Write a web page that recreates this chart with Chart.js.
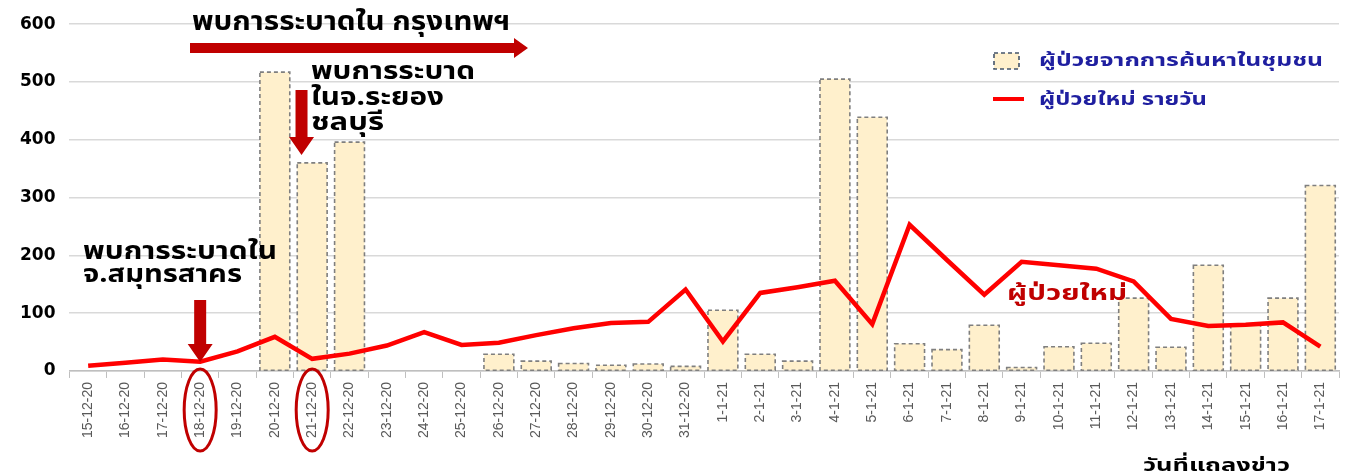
<!DOCTYPE html>
<html>
<head>
<meta charset="utf-8">
<script src="https://cdn.jsdelivr.net/npm/chart.js@4.4.0/dist/chart.umd.min.js"></script>
<style>
  html, body { margin: 0; padding: 0; background: #ffffff; }
  #wrap { width: 1345px; height: 474px; position: relative; }
</style>
</head>
<body>
<div id="wrap"><canvas id="chart"></canvas></div>
<script>
// Dates of the press briefings
const dates = [
    '15-12-20', '16-12-20', '17-12-20', '18-12-20', '19-12-20', '20-12-20', '21-12-20',
    '22-12-20', '23-12-20', '24-12-20', '25-12-20', '26-12-20', '27-12-20', '28-12-20',
    '29-12-20', '30-12-20', '31-12-20', '1-1-21', '2-1-21', '3-1-21', '4-1-21', '5-1-21',
    '6-1-21', '7-1-21', '8-1-21', '9-1-21', '10-1-21', '11-1-21', '12-1-21', '13-1-21',
    '14-1-21', '15-1-21', '16-1-21', '17-1-21'
];

// Cases found by active community search (bars)
const communityCases = [
    0, 0, 0, 0, 0, 517, 360, 396, 0, 0, 0, 29, 17, 13, 10, 12, 8,
    105, 29, 17, 505, 439, 47, 37, 79, 6, 42, 48, 126, 41, 183, 80, 126, 321
];

// New daily cases (line)
const dailyCases = [
    9, 14, 20, 16, 34, 59, 21, 30, 44, 67, 45, 49, 62, 74, 83, 85, 141,
    51, 135, 145, 156, 81, 253, 192, 132, 189, 183, 177, 155, 90, 78, 80, 84, 42
];

const yTicks = [0, 100, 200, 300, 400, 500, 600];

const thaiFont = "'Noto Sans Thai', 'Noto Sans', 'DejaVu Sans', sans-serif";
const barFill = '#FFF0CC';
const barEdge = '#7F7F7F';
const lineRed = '#FF0000';
const darkRed = '#C00000';
const navy = '#1F1FA0';

/**
 * Draw a filled arrow from (x1,y1) to (x2,y2)
 */
function drawArrow(ctx, x1, y1, x2, y2, shaft, headW, headL) {
    const ang = Math.atan2(y2 - y1, x2 - x1);
    const len = Math.hypot(x2 - x1, y2 - y1);
    ctx.save();
    ctx.translate(x1, y1);
    ctx.rotate(ang);
    ctx.fillStyle = darkRed;
    ctx.beginPath();
    ctx.moveTo(0, -shaft / 2);
    ctx.lineTo(len - headL, -shaft / 2);
    ctx.lineTo(len - headL, -headW / 2);
    ctx.lineTo(len, 0);
    ctx.lineTo(len - headL, headW / 2);
    ctx.lineTo(len - headL, shaft / 2);
    ctx.lineTo(0, shaft / 2);
    ctx.closePath();
    ctx.fill();
    ctx.restore();
}

/**
 * Bold text squeezed/stretched to a given width
 */
function fitText(ctx, text, x, y, width, size, color) {
    ctx.save();
    ctx.font = `bold ${size}px ${thaiFont}`;
    ctx.fillStyle = color;
    ctx.textBaseline = 'alphabetic';
    ctx.textAlign = 'left';
    const w = ctx.measureText(text).width;
    ctx.translate(x, y);
    ctx.scale(width / w, 1);
    ctx.fillText(text, 0, 0);
    ctx.restore();
}

// Dashed outlines around the bars (bar element has no dash option)
const dashedBars = {
    id: 'dashedBars',
    afterDatasetDraw(chart, args) {
        if (args.index !== 1) return;
        const ctx = chart.ctx;
        ctx.save();
        ctx.strokeStyle = barEdge;
        ctx.lineWidth = 1.6;
        ctx.setLineDash([4, 3]);
        args.meta.data.forEach((bar, i) => {
            if (!communityCases[i]) return;
            const p = bar.getProps(['x', 'y', 'base', 'width'], true);
            ctx.strokeRect(p.x - p.width / 2, p.y, p.width, p.base - p.y);
        });
        ctx.restore();
    }
};

// Text notes, arrows, circles and legend
const notes = {
    id: 'notes',
    afterDraw(chart) {
        const ctx = chart.ctx;
        const x = chart.scales.x;
        ctx.save();

        // Bangkok outbreak
        fitText(ctx, 'พบการระบาดใน กรุงเทพฯ', 192, 30, 318, 27, '#000000');
        drawArrow(ctx, 190, 48, 528, 48, 10, 20, 14);

        // Rayong / Chonburi outbreak
        fitText(ctx, 'พบการระบาด', 311, 79, 164, 25, '#000000');
        fitText(ctx, 'ในจ.ระยอง', 311, 105, 133, 25, '#000000');
        fitText(ctx, 'ชลบุรี', 311, 130, 73, 25, '#000000');
        const xr = (x.getPixelForValue(5) + x.getPixelForValue(6)) / 2 + 8;
        drawArrow(ctx, xr, 90, xr, 155, 12, 25, 18);

        // Samut Sakhon outbreak
        fitText(ctx, 'พบการระบาดใน', 83, 259, 194, 25, '#000000');
        fitText(ctx, 'จ.สมุทรสาคร', 83, 282, 159, 25, '#000000');
        const xs = x.getPixelForValue(3);
        drawArrow(ctx, xs, 300, xs, 362, 12, 25, 18);

        // Circles around 18-12-20 and 21-12-20
        ctx.strokeStyle = darkRed;
        ctx.lineWidth = 3;
        [3, 6].forEach(i => {
            ctx.beginPath();
            ctx.ellipse(x.getPixelForValue(i), 410, 16, 41, 0, 0, Math.PI * 2);
            ctx.stroke();
        });

        // Line label
        fitText(ctx, 'ผู้ป่วยใหม่', 1007, 300, 120, 22, darkRed);

        // Legend
        ctx.fillStyle = barFill;
        ctx.fillRect(994, 53, 25, 16);
        ctx.strokeStyle = '#44546A';
        ctx.lineWidth = 1.6;
        ctx.setLineDash([4, 3]);
        ctx.strokeRect(994, 53, 25, 16);
        ctx.setLineDash([]);
        ctx.strokeStyle = lineRed;
        ctx.lineWidth = 4;
        ctx.beginPath();
        ctx.moveTo(993, 99);
        ctx.lineTo(1024, 99);
        ctx.stroke();
        fitText(ctx, 'ผู้ป่วยจากการค้นหาในชุมชน', 1039, 66, 284, 18, navy);
        fitText(ctx, 'ผู้ป่วยใหม่ รายวัน', 1039, 105, 168, 18, navy);

        // Axis caption
        fitText(ctx, 'วันที่แถลงข่าว', 1143, 471, 147, 18, '#000000');
        ctx.restore();
    }
};

const ctx = document.getElementById('chart');
new Chart(ctx, {
    data: {
        labels: dates,
        datasets: [
            {
                type: 'line',
                label: 'ผู้ป่วยใหม่ รายวัน',
                data: dailyCases,
                borderColor: lineRed,
                borderWidth: 4.5,
                pointRadius: 0,
                tension: 0,
                order: 1
            },
            {
                type: 'bar',
                label: 'ผู้ป่วยจากการค้นหาในชุมชน',
                data: communityCases,
                backgroundColor: barFill,
                borderWidth: 0,
                barPercentage: 0.8,
                categoryPercentage: 1.0,
                order: 2
            }
        ]
    },
    options: {
        responsive: true,
        maintainAspectRatio: false,
        animation: false,
        layout: { padding: { top: 14, right: 6, bottom: 32, left: 6 } },
        plugins: {
            legend: { display: false },
            tooltip: { enabled: false }
        },
        scales: {
            x: {
                offset: true,
                grid: {
                    display: true,
                    offset: true,
                    drawOnChartArea: false,
                    color: '#BFBFBF',
                    tickLength: 7
                },
                border: { color: '#BFBFBF', width: 1.5 },
                ticks: {
                    autoSkip: false,
                    maxRotation: 90,
                    minRotation: 90,
                    color: '#595959',
                    font: { family: "'Liberation Sans', Arial, sans-serif", size: 14 },
                    padding: 4
                }
            },
            y: {
                min: 0,
                max: 600,
                afterBuildTicks(axis) {
                    axis.ticks = yTicks.map(v => ({ value: v }));
                },
                grid: { color: '#D9D9D9', lineWidth: 1.5, drawTicks: false },
                border: { display: false },
                ticks: {
                    color: '#000000',
                    font: { family: "'DejaVu Sans', sans-serif", size: 17, weight: 'bold' },
                    padding: 14
                }
            }
        }
    },
    plugins: [dashedBars, notes]
});
</script>
</body>
</html>
